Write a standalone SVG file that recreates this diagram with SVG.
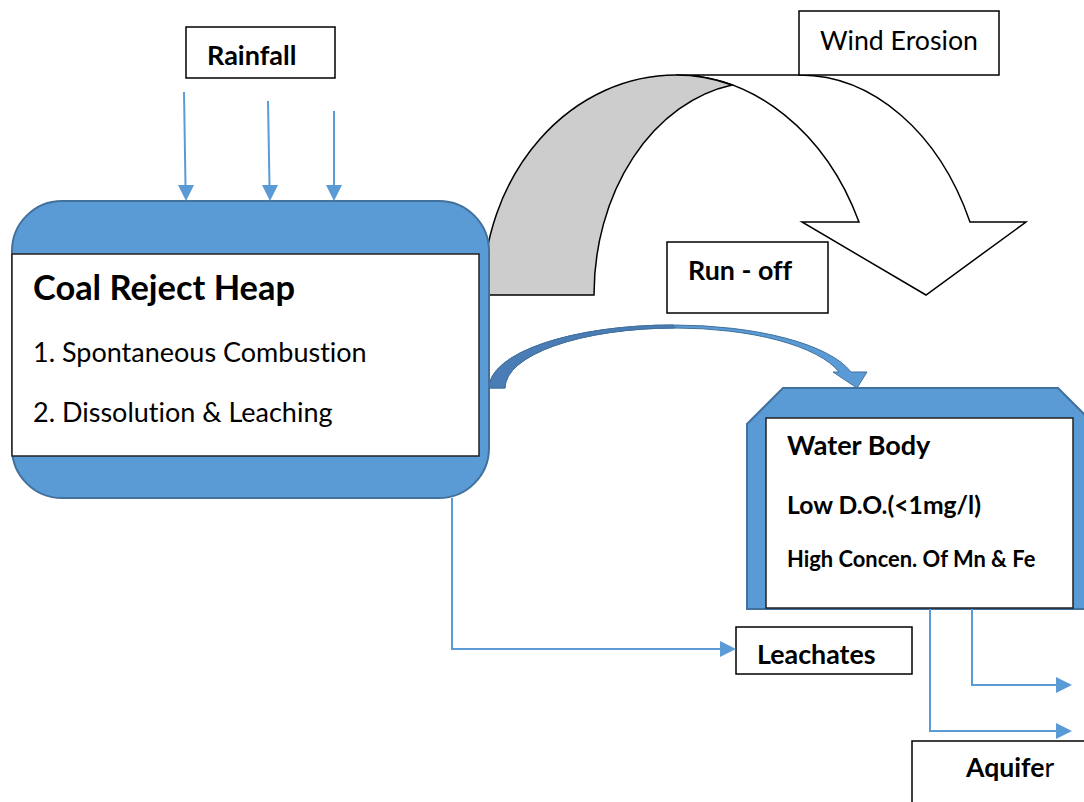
<svg xmlns="http://www.w3.org/2000/svg" width="1084" height="802" viewBox="0 0 1084 802">
<defs>
<style>
.t{font-family:Lato,"Open Sans","Liberation Sans",sans-serif;fill:#000;font-variant-ligatures:none;font-feature-settings:"liga" 0}
.b{font-weight:bold}
.box{fill:#fff;stroke:#000;stroke-width:1.5}
.blue{fill:#5B9BD5;stroke:#41719C;stroke-width:2}
.conn{fill:none;stroke:#5B9BD5;stroke-width:2}
.head{fill:#5B9BD5}
</style>
</defs>
<rect width="1084" height="802" fill="#fff"/>

<g id="wind-arrow">
<path d="M676,75 L800,75 A188,255 0 0 1 970,222 L1026,222 L926,295 L802,222 L859,222 A202,255 0 0 0 676,75 Z" fill="#fff" stroke="#000" stroke-width="1.5" stroke-linejoin="miter"/>
<path d="M483,295 A193,220 0 0 1 676,75 A202,255 0 0 1 732,85 A166,213 0 0 0 594,295 Z" fill="#CDCDCD" stroke="#000" stroke-width="1.5"/>
</g>

<g id="rainfall">
<rect class="box" x="186" y="27" width="149" height="51"/>
<text class="t b" x="207" y="65" font-size="27">Rainfall</text>
</g>

<g id="wind-erosion">
<rect class="box" x="799" y="11" width="200" height="64"/>
<text class="t" x="820" y="50" font-size="26.7">Wind Erosion</text>
</g>

<g id="run-off">
<rect class="box" x="667" y="242" width="161" height="71"/>
<text class="t b" x="688" y="280" font-size="26.8">Run - off</text>
</g>

<g id="coal-reject-heap">
<rect class="blue" x="12" y="201" width="477" height="297" rx="50" ry="50"/>
<rect x="12" y="254" width="467" height="202" fill="#fff" stroke="#222" stroke-width="1.5"/>
<text class="t b" x="33" y="300" font-size="34.4">Coal Reject Heap</text>
<text class="t" x="33" y="362" font-size="27">1. Spontaneous Combustion</text>
<text class="t" x="33" y="422" font-size="27">2. Dissolution &amp; Leaching</text>
</g>

<g id="water-body">
<path class="blue" d="M783,388 L1058,388 L1094,424 L1094,609 L747,609 L747,424 Z"/>
<rect x="766" y="418" width="307" height="190" fill="#fff" stroke="#222" stroke-width="1.5"/>
<text class="t b" x="787" y="455" font-size="27">Water Body</text>
<text class="t b" x="787" y="514" font-size="24.7">Low D.O.(&lt;1mg/l)</text>
<text class="t b" x="787" y="567" font-size="21.9">High Concen. Of Mn &amp; Fe</text>
</g>

<g id="leachates">
<rect class="box" x="736" y="627" width="176" height="47"/>
<text class="t b" x="757" y="664" font-size="26.8">Leachates</text>
</g>

<g id="aquifer">
<rect class="box" x="912" y="741" width="190" height="80"/>
<text class="t b" x="966" y="777" font-size="26.6">Aquife<tspan font-weight="normal">r</tspan></text>
</g>

<g id="connectors">
<path class="conn" d="M184,92 L185.5,186"/>
<path class="head" d="M178,185 L194,185 L186,201 Z"/>
<path class="conn" d="M268,101 L269.5,186"/>
<path class="head" d="M262,185 L278,185 L270,201 Z"/>
<path class="conn" d="M334,111 L334,186"/>
<path class="head" d="M326,185 L342,185 L334,201 Z"/>

<path class="conn" d="M452,498 L452,649 L721,649"/>
<path class="head" d="M720,641 L736,649 L720,657 Z"/>

<path class="conn" d="M930,609 L930,731 L1057,731"/>
<path class="head" d="M1056,723 L1072,731 L1056,739 Z"/>
<path class="conn" d="M972,609 L972,685 L1057,685"/>
<path class="head" d="M1056,677 L1072,685 L1056,693 Z"/>

<g id="runoff-arrow">
<path d="M489,388 A184,63 0 0 1 673,325 A184,63 0 0 1 851,372 L867,372 L857,388 L833,372 L839,372 A170,60 0 0 0 675,328 A170,60 0 0 0 505,388 Z" fill="#5B9BD5" stroke="#41719C" stroke-width="1"/>
<path d="M489,388 A184,63 0 0 1 673,325 L675,328 A170,60 0 0 0 505,388 Z" fill="#4A7DB5" stroke="#41719C" stroke-width="1"/>
</g>
</g>
</svg>
